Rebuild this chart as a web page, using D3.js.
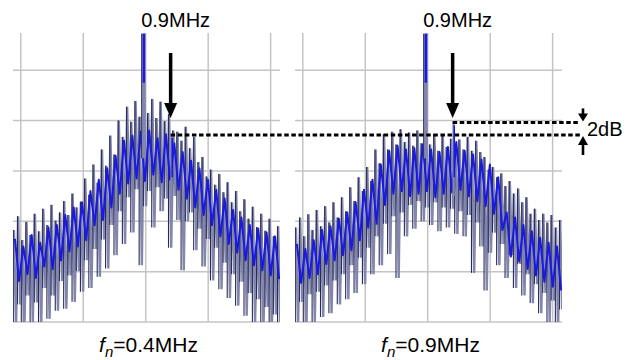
<!DOCTYPE html>
<html>
<head>
<meta charset="utf-8">
<script src="https://cdn.jsdelivr.net/npm/d3@7"></script>
<style>
  body { margin: 0; background: #fff; }
  text { font-family: "Liberation Sans", Arial, sans-serif; fill: #000; }
</style>
</head>
<body>
<svg id="chart" width="638" height="360"></svg>
<script>
// ---- grid (MHz offset, dB) ----
const gridFreqs = [-4, -2, 0, 2, 4];
const gridLevels = [0, -8, -16, -24, -32, -40];

// ---- FFT bins: first bin offset and spacing (MHz) ----
const binStart = -4.22;
const binStep = 0.1343;

// ---- panel A (fn = 0.4 MHz): per-bin peak, trough and averaged trace, dB ----
const peakA = [-25.4,-23.2,-27.0,-24.1,-26.2,-22.8,-25.6,-22.0,-24.6,-21.4,-23.9,-22.6,-20.8,-23.0,-19.6,-21.8,
               -20.9,-17.2,-19.8,-15.0,-17.9,-12.6,-15.2,-10.4,-13.4,-8.0,-10.6,-5.8,-8.2,-4.9,-7.4,-5.5,
               -6.8,-4.6,-7.6,-5.0,-8.1,-7.0,-9.6,-9.8,-11.2,-9.0,-12.4,-10.6,-14.6,-13.8,-16.9,-15.8,
               -18.2,-16.5,-19.4,-17.8,-21.0,-19.2,-22.4,-20.5,-23.6,-21.7,-24.9,-22.8,-25.5,-23.6,-26.4,-24.8];
const troughA = [-41,-37.2,-41,-35.8,-40,-36.9,-41,-34.6,-39.5,-35.8,-38.2,-33.5,-37.9,-32.6,-36.8,-31.9,
                 -35.2,-30.2,-34.6,-28.4,-32.8,-26.9,-31.5,-24.6,-29.4,-22.4,-27.6,-20.2,-25.8,-18.9,-31.0,-21.6,
                 -19.2,-25.0,-18.6,-22.4,-20.4,-28.2,-20.0,-23.8,-31.8,-24.0,-22.6,-28.6,-25.2,-31.2,-26.8,-33.4,
                 -28.2,-34.8,-30.6,-36.2,-32.4,-37.4,-33.6,-39.0,-35.4,-40,-36.4,-41,-37.6,-41,-38.8,-41];
const avgA = [-26.8,-33.5,-28.0,-32.4,-26.2,-33.0,-27.4,-31.2,-25.0,-31.6,-24.6,-30.2,-23.0,-28.8,-21.8,-28.0,
              -21.0,-27.0,-19.2,-24.6,-17.4,-23.8,-15.6,-21.8,-13.6,-19.6,-11.2,-18.0,-10.4,-17.2,-9.8,-17.6,
              -9.6,-16.6,-10.8,-17.8,-10.2,-17.4,-11.6,-19.0,-13.0,-20.4,-14.4,-21.8,-15.6,-23.0,-17.4,-24.6,
              -19.0,-26.4,-20.4,-27.6,-22.2,-29.0,-23.4,-30.2,-24.6,-31.0,-25.2,-31.8,-25.8,-32.6,-26.4,-33.2];

// ---- panel B (fn = 0.9 MHz) ----
const peakB = [-25.0,-23.4,-26.4,-22.9,-25.4,-22.2,-24.8,-21.6,-24.2,-21.0,-23.4,-20.2,-22.4,-18.6,-20.8,-17.0,
               -19.2,-15.4,-17.6,-12.6,-14.8,-10.2,-12.6,-9.8,-11.8,-9.4,-11.4,-9.9,-12.0,-9.6,-11.6,-10.0,
               -11.8,-10.2,-12.8,-10.4,-12.2,-10.9,-11.6,-11.0,-12.6,-10.6,-12.8,-11.2,-13.0,-13.8,-15.8,-15.4,
               -17.0,-16.4,-18.4,-17.6,-19.6,-18.8,-21.0,-20.2,-22.8,-22.0,-23.8,-22.8,-24.2,-23.0,-25.0,-23.8];
const troughB = [-41,-36.8,-41,-35.6,-40,-35.2,-39.2,-34.2,-38.6,-33.4,-37.2,-32.4,-36.4,-31.0,-35.4,-29.8,
                 -34.0,-28.2,-32.4,-26.4,-31.0,-24.4,-29.2,-23.2,-33.0,-22.6,-26.4,-21.4,-25.2,-20.8,-24.0,-21.8,
                 -24.6,-21.0,-25.6,-21.8,-25.0,-22.0,-26.0,-22.4,-26.4,-23.0,-32.2,-24.2,-28.0,-35.0,-29.0,-25.8,
                 -31.0,-27.6,-33.0,-29.4,-34.6,-30.8,-35.8,-32.4,-37.0,-34.0,-38.6,-35.4,-40,-36.6,-41,-38.0];
const avgB = [-27.6,-33.8,-28.4,-33.0,-27.0,-32.4,-25.4,-30.8,-24.8,-30.2,-23.6,-29.4,-22.6,-28.6,-21.0,-27.0,
              -19.0,-25.0,-17.4,-24.4,-15.0,-21.4,-12.8,-19.6,-12.0,-19.2,-12.6,-20.0,-12.4,-19.6,-11.8,-19.2,
              -12.6,-20.2,-13.0,-19.6,-12.2,-19.4,-11.4,-19.0,-12.8,-20.0,-13.4,-20.8,-14.2,-21.6,-15.0,-22.8,
              -17.0,-25.4,-22.6,-29.6,-23.4,-30.4,-24.6,-31.6,-25.6,-32.6,-26.6,-33.6,-27.4,-34.4,-28.0,-35.0];

// ---- carrier and the 0.9 MHz component ----
const carrierOffset = -0.07;      // MHz
const carrierLevel = 5.8;         // dB (runs off the top of the screen)
const spurOffset = 0.83;          // MHz, carrier + 0.9 MHz
const spurLevels = [-10.3, -8.3]; // dB, panel A and panel B
const spurLabel = "0.9MHz";
const deltaLabel = "2dB";
const panelNotes = ["0.4MHz", "0.9MHz"];

// ---- layout ----
const svg = d3.select("#chart");
const plotTop = 33, plotBottom = 322;
const panels = [
  { left: 13,  right: 280, peak: peakA, trough: troughA, avg: avgA, note: panelNotes[0], spur: spurLevels[0] },
  { left: 295, right: 562, peak: peakB, trough: troughB, avg: avgB, note: panelNotes[1], spur: spurLevels[1] }
];
const y = d3.scaleLinear().domain([-40, 5.9]).range([plotBottom, plotTop]);
const binFreqs = d3.range(peakA.length).map(i => binStart + i * binStep);

const colGrid = "#c4c4c4", colTrace = "#8286ad", colEdge = "#282b58", colAvg = "#1a1ae2";

panels.forEach((p, k) => {
  const x = d3.scaleLinear().domain([-4.25, 4.3]).range([p.left, p.right]);
  p.x = x;
  const g = svg.append("g");
  const clipId = "clip" + k;
  svg.append("clipPath").attr("id", clipId)
    .append("rect").attr("x", p.left).attr("y", plotTop).attr("width", p.right - p.left).attr("height", plotBottom - plotTop);

  // grid
  g.selectAll(".vg").data(gridFreqs).join("line")
    .attr("x1", d => x(d)).attr("x2", d => x(d)).attr("y1", plotTop).attr("y2", plotBottom)
    .attr("stroke", colGrid).attr("stroke-width", 1.5);
  g.selectAll(".hg").data(gridLevels).join("line")
    .attr("x1", p.left).attr("x2", p.right).attr("y1", d => y(d)).attr("y2", d => y(d))
    .attr("stroke", colGrid).attr("stroke-width", 1.5);

  const plot = g.append("g").attr("clip-path", `url(#${clipId})`);

  // max-hold trace: peak / trough per bin
  const pts = [];
  p.peak.forEach((v, i) => {
    pts.push([x(binFreqs[i]), y(v)]);
    pts.push([x(binFreqs[i]) + 2.1, y(p.trough[i])]);
  });
  plot.append("path").attr("d", d3.line()(pts))
    .attr("fill", "none").attr("stroke", colTrace).attr("stroke-width", 2.4).attr("stroke-linejoin", "miter");
  plot.selectAll(".edge").data(p.peak).join("line")
    .attr("x1", (d, i) => x(binFreqs[i]) - 0.6).attr("x2", (d, i) => x(binFreqs[i]) - 0.6)
    .attr("y1", d => y(d)).attr("y2", (d, i) => y(p.trough[i]))
    .attr("stroke", colEdge).attr("stroke-width", 1.1);

  // averaged trace
  plot.append("path")
    .attr("d", d3.line().x((d, i) => x(binFreqs[i]) + 1).y(d => y(d))(p.avg))
    .attr("fill", "none").attr("stroke", colAvg).attr("stroke-width", 2).attr("stroke-linejoin", "round");

  // carrier
  plot.append("line").attr("x1", x(carrierOffset)).attr("x2", x(carrierOffset))
    .attr("y1", y(carrierLevel)).attr("y2", y(-14))
    .attr("stroke", colTrace).attr("stroke-width", 4.5);
  plot.append("line").attr("x1", x(carrierOffset) - 2).attr("x2", x(carrierOffset) - 2)
    .attr("y1", y(carrierLevel)).attr("y2", y(-14))
    .attr("stroke", colEdge).attr("stroke-width", 0.8);
  plot.append("line").attr("x1", x(carrierOffset) + 0.3).attr("x2", x(carrierOffset) + 0.3)
    .attr("y1", y(carrierLevel)).attr("y2", y(-2))
    .attr("stroke", colAvg).attr("stroke-width", 2.4);

  // 0.9 MHz component
  plot.append("line").attr("x1", x(spurOffset)).attr("x2", x(spurOffset))
    .attr("y1", y(p.spur)).attr("y2", y(-20))
    .attr("stroke", colTrace).attr("stroke-width", 2.4);
  plot.append("line").attr("x1", x(spurOffset) + 0.6).attr("x2", x(spurOffset) + 0.6)
    .attr("y1", y(p.spur) + 3).attr("y2", y(-17))
    .attr("stroke", colAvg).attr("stroke-width", 1.6);

  // label above
  svg.append("text").attr("x", x(spurOffset) + 4).attr("y", 27)
    .attr("text-anchor", "middle").attr("font-size", 20).text(spurLabel);

  // arrow to the component
  const ax = x(spurOffset) - 1, tipY = y(-7.6);
  svg.append("line").attr("x1", ax).attr("x2", ax).attr("y1", 53).attr("y2", tipY - 12)
    .attr("stroke", "#000").attr("stroke-width", 3.5);
  svg.append("path")
    .attr("d", `M${ax - 6.5},${tipY - 15} L${ax + 6.5},${tipY - 15} L${ax},${tipY} Z`)
    .attr("fill", "#000");

  // caption below
  const cap = svg.append("text").attr("x", (p.left + p.right) / 2 + 2).attr("y", 352)
    .attr("text-anchor", "middle").attr("font-size", 21);
  cap.append("tspan").attr("font-style", "italic").text("f");
  cap.append("tspan").attr("font-style", "italic").attr("font-size", 15).attr("dy", 5).text("n");
  cap.append("tspan").attr("dy", -5).text("=" + p.note);
});

// level markers for the 0.9 MHz component
const endX = 580;
panels.forEach(p => {
  svg.append("line")
    .attr("x1", p.x(spurOffset) - 1).attr("x2", endX)
    .attr("y1", y(p.spur)).attr("y2", y(p.spur))
    .attr("stroke", "#000").attr("stroke-width", 3).attr("stroke-dasharray", "4.5,2.6");
});

// 2 dB difference marker
const mx = 583, yUp = y(spurLevels[1]), yLo = y(spurLevels[0]);
svg.append("line").attr("x1", mx).attr("x2", mx).attr("y1", yUp - 14).attr("y2", yUp - 7)
  .attr("stroke", "#000").attr("stroke-width", 2.6);
svg.append("path").attr("d", `M${mx - 5},${yUp - 9} L${mx + 5},${yUp - 9} L${mx},${yUp - 1} Z`).attr("fill", "#000");
svg.append("line").attr("x1", mx).attr("x2", mx).attr("y1", yLo + 20).attr("y2", yLo + 8)
  .attr("stroke", "#000").attr("stroke-width", 2.6);
svg.append("path").attr("d", `M${mx - 5},${yLo + 10} L${mx + 5},${yLo + 10} L${mx},${yLo + 1} Z`).attr("fill", "#000");
svg.append("text").attr("x", 587).attr("y", (yUp + yLo) / 2 + 7)
  .attr("font-size", 20).text(deltaLabel);
</script>
</body>
</html>
